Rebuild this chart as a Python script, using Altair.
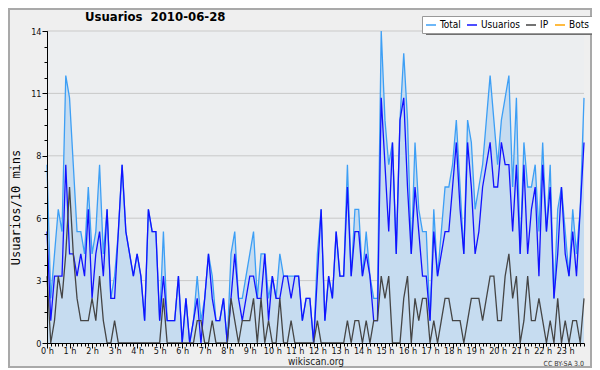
import altair as alt
import pandas as pd

series_names = ["Total", "Usuarios", "IP", "Bots"]
series_colors = ["#3d9ff5", "#1212ff", "#454545", "#ffa500"]

total = [8, 2, 4, 6, 5, 12, 11, 8, 5, 5, 4, 7, 4, 5, 8, 4, 6, 2, 3, 5,
         8, 5, 4, 3, 4, 3, 1, 6, 5, 5, 1, 5, 1, 1, 1, 3, 0, 2, 0, 1,
         3, 1, 2, 4, 3, 1, 1, 2, 0, 4, 5, 2, 2, 3, 4, 5, 2, 4, 4, 2,
         3, 2, 4, 3, 3, 3, 3, 3, 1, 2, 2, 0, 4, 6, 1, 3, 2, 5, 3, 3,
         8, 3, 6, 6, 3, 5, 3, 2, 2, 14, 10, 8, 9, 4, 10, 13, 10, 4, 9, 6,
         5, 5, 1, 6, 3, 5, 7, 7, 8, 10, 7, 4, 10, 9, 6, 7, 8, 10, 12, 10,
         8, 10, 11, 12, 7, 11, 4, 9, 7, 7, 8, 5, 9, 5, 8, 2, 6, 7, 5, 3,
         6, 4, 6, 11]
usuarios = [5, 1, 3, 3, 3, 8, 4, 4, 3, 4, 3, 6, 2, 4, 5, 3, 6, 2, 2, 5,
            8, 5, 4, 3, 4, 3, 1, 6, 5, 5, 1, 3, 1, 1, 1, 3, 0, 2, 0, 1,
            2, 0, 2, 4, 2, 1, 1, 2, 0, 2, 4, 2, 1, 2, 3, 3, 2, 2, 4, 1,
            3, 2, 2, 3, 3, 2, 3, 3, 1, 2, 2, 0, 3, 6, 1, 3, 2, 5, 3, 3,
            7, 3, 5, 5, 3, 4, 3, 1, 1, 11, 8, 5, 9, 4, 10, 11, 7, 4, 7, 5,
            3, 3, 1, 5, 3, 4, 5, 5, 7, 9, 6, 4, 9, 7, 4, 5, 7, 8, 9, 7,
            7, 9, 8, 8, 5, 8, 4, 8, 4, 6, 7, 3, 8, 5, 7, 2, 4, 7, 4, 3,
            5, 3, 6, 9]
ip = [3, 0, 1, 3, 2, 4, 7, 4, 2, 1, 1, 1, 2, 1, 3, 1, 0, 0, 1, 0,
      0, 0, 0, 0, 0, 0, 0, 0, 0, 0, 0, 2, 0, 0, 0, 0, 0, 0, 0, 0,
      1, 1, 0, 0, 1, 0, 0, 0, 0, 2, 1, 0, 1, 1, 1, 2, 0, 2, 0, 1,
      0, 0, 2, 0, 0, 1, 0, 0, 0, 0, 0, 0, 1, 0, 0, 0, 0, 0, 0, 0,
      1, 0, 1, 1, 0, 1, 0, 1, 1, 3, 2, 3, 0, 0, 0, 2, 3, 0, 2, 1,
      2, 2, 0, 1, 0, 1, 2, 2, 1, 1, 1, 0, 1, 2, 2, 2, 1, 2, 3, 3,
      1, 1, 3, 4, 2, 3, 0, 1, 3, 1, 1, 2, 1, 0, 1, 0, 2, 0, 1, 0,
      1, 1, 0, 2]
bots = [0] * 144

hour_ticks = list(range(24))
minor_x_ticks = [k / 6 for k in range(144)]
y_ticks = [0, 2.8, 5.6, 8.4, 11.2, 14]
minor_y_ticks = [round(k * 0.7, 2) for k in range(21)]

rows = []
for name, vals in zip(series_names, [total, usuarios, ip, bots]):
    for i, v in enumerate(vals):
        rows.append({"hora": i / 6, "serie": name, "valor": v})
df = pd.DataFrame(rows)

FONT = "DejaVu Sans Condensed, DejaVu Sans"
xscale = alt.Scale(domain=[0, 143 / 6], nice=False, zero=False)
yscale = alt.Scale(domain=[0, 14], nice=False)
cscale = alt.Scale(domain=series_names, range=series_colors)

legend = alt.Legend(
    title=None, orient="none", legendX=375, legendY=-15, direction="horizontal",
    symbolType="stroke", symbolSize=100, symbolStrokeWidth=1.5,
    labelFont=FONT, labelFontSize=10, labelColor="#000",
    columnPadding=3, labelOffset=3, padding=3,
    fillColor="white", strokeColor="#999999",
)

major_x_axis = alt.Axis(
    values=hour_ticks, labelExpr="datum.value + ' h'", tickSize=5,
    tickColor="#000", domainColor="#000", labelFont=FONT, labelFontSize=9,
    labelColor="#111", labelPadding=-2, labelFlush=False, grid=False,
    title="wikiscan.org", titleFont=FONT, titleFontSize=10,
    titleFontWeight="normal", titleColor="#222", titlePadding=1,
    orient="bottom", zindex=1,
)
minor_x_axis = alt.Axis(
    values=minor_x_ticks, tickSize=3, tickColor="#000", labels=False,
    domain=False, grid=False, title=None, orient="bottom", zindex=1,
)
major_y_axis = alt.Axis(
    values=y_ticks, labelExpr="round(datum.value)", tickSize=5,
    tickColor="#000", domainColor="#000", labelFont=FONT, labelFontSize=9,
    labelColor="#111", labelPadding=1, grid=False,
    title="Usuarios/10 mins", titleFont="DejaVu Sans Mono", titleFontSize=12,
    titleFontWeight="normal", titleColor="#000", titleAngle=270,
    titleX=-32, titleY=176, titleAlign="center", titleBaseline="middle",
    orient="left", zindex=1,
)
minor_y_axis = alt.Axis(
    values=minor_y_ticks, tickSize=3, tickColor="#000", labels=False,
    domain=False, grid=False, title=None, orient="left", zindex=1,
)

grid = alt.Chart(pd.DataFrame({"y": y_ticks[1:]})).mark_rule(
    color="#c9c9c9", strokeWidth=1
).encode(y=alt.Y("y:Q", scale=yscale, axis=None))

area = alt.Chart(df[df.serie == "Total"]).mark_area(
    color="#c6dcf0", opacity=1
).encode(
    x=alt.X("hora:Q", scale=xscale, axis=minor_x_axis),
    y=alt.Y("valor:Q", scale=yscale, axis=minor_y_axis),
)


def line_layer(name, x_axis=None, y_axis=None):
    return alt.Chart(df[df.serie == name]).mark_line(strokeWidth=1.3).encode(
        x=alt.X("hora:Q", scale=xscale, axis=x_axis),
        y=alt.Y("valor:Q", scale=yscale, axis=y_axis),
        color=alt.Color("serie:N", scale=cscale, legend=legend),
    )


cc = alt.Chart(pd.DataFrame({"t": ["CC BY-SA 3.0"]})).mark_text(
    font=FONT, fontSize=7, color="#333", align="right", baseline="middle"
).encode(text="t:N", x=alt.value(537), y=alt.value(333))

frame = alt.Chart(pd.DataFrame({"k": [0]})).mark_rect(
    fill=None, stroke="#a9a9a9", strokeWidth=2
).encode(
    x=alt.value(-38), x2=alt.value(544), y=alt.value(-22), y2=alt.value(336)
)

legend_shadow = alt.Chart(pd.DataFrame({"k": [0]})).mark_rect(
    fill="#707070"
).encode(
    x=alt.value(379), x2=alt.value(547), y=alt.value(-12), y2=alt.value(4)
)

chart = alt.layer(
    grid,
    line_layer("Bots"),
    area,
    line_layer("Total", major_x_axis, major_y_axis),
    line_layer("Usuarios"),
    line_layer("IP"),
    cc,
    frame,
    legend_shadow,
).resolve_axis(x="independent", y="independent").properties(
    width=537, height=312,
    padding={"left": 39, "top": 23, "right": 8, "bottom": 25},
    autosize=alt.AutoSizeParams(type="none"),
    title=alt.TitleParams(
        "Usuarios\u00a0 2010-06-28", anchor="start", frame="group", dx=38,
        dy=20, offset=4,
        font=FONT, fontSize=13, fontWeight="bold", color="#000",
    ),
).configure(background="#efefef").configure_view(fill="#eceef0", stroke=None)

chart.save("out.html", embed_options={"renderer": "svg", "actions": False})
